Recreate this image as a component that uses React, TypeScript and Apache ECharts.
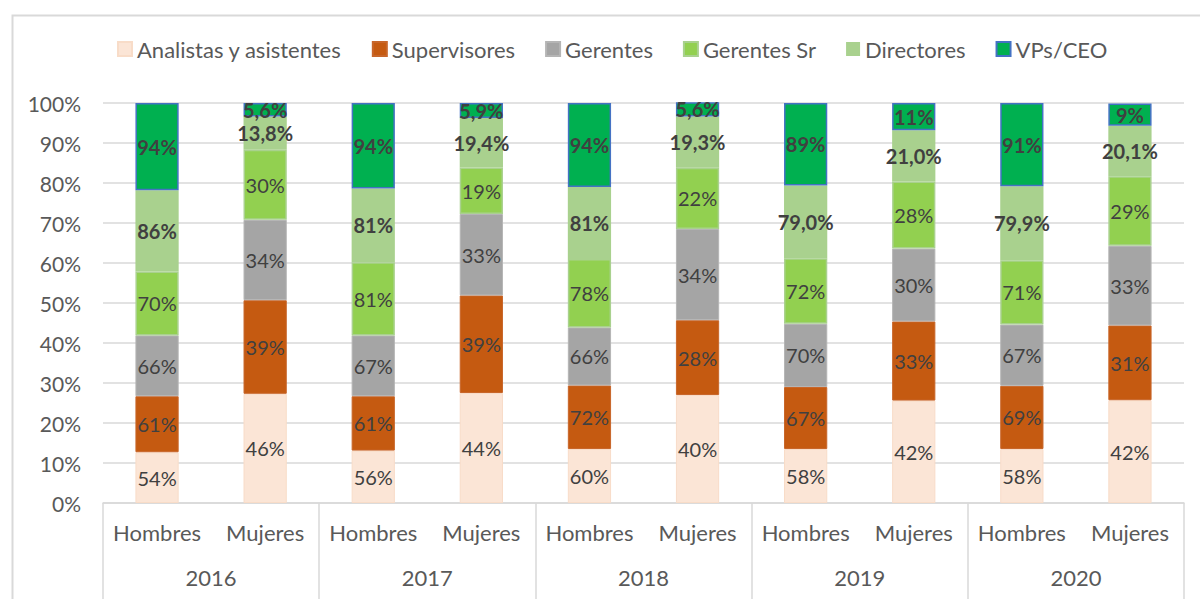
import React, { useEffect, useRef } from "react";
import * as echarts from "echarts";

const categories = ["Hombres", "Mujeres", "Hombres", "Mujeres", "Hombres", "Mujeres", "Hombres", "Mujeres", "Hombres", "Mujeres"];
const years = ["2016", "2017", "2018", "2019", "2020"];
const yTicks = [0, 10, 20, 30, 40, 50, 60, 70, 80, 90, 100];

const seriesNames = ["Analistas y asistentes", "Supervisores", "Gerentes", "Gerentes Sr", "Directores", "VPs/CEO"];

// segment heights (share of the 100% column)
const analistas = [12.7, 27.3, 13.1, 27.5, 13.5, 27.0, 13.5, 25.6, 13.5, 25.7];
const supervisores = [14.0, 23.4, 13.6, 24.4, 15.9, 18.7, 15.5, 19.8, 15.8, 18.7];
const gerentes = [15.2, 20.1, 15.2, 20.35, 14.5, 22.8, 15.8, 18.2, 15.3, 19.9];
const gerentesSr = [16.0, 17.5, 18.3, 11.65, 17.1, 15.3, 16.4, 16.8, 16.1, 17.4];
const directores = [20.3, 8.3, 18.4, 12.35, 18.0, 12.8, 18.2, 12.8, 18.5, 12.6];
const vps = [21.8, 3.4, 21.4, 3.75, 21.0, 4.0, 20.6, 6.8, 20.8, 5.6];

// printed labels
const analistasLbl = ["54%", "46%", "56%", "44%", "60%", "40%", "58%", "42%", "58%", "42%"];
const supervisoresLbl = ["61%", "39%", "61%", "39%", "72%", "28%", "67%", "33%", "69%", "31%"];
const gerentesLbl = ["66%", "34%", "67%", "33%", "66%", "34%", "70%", "30%", "67%", "33%"];
const gerentesSrLbl = ["70%", "30%", "81%", "19%", "78%", "22%", "72%", "28%", "71%", "29%"];
const directoresLbl = ["86%", "13,8%", "81%", "19,4%", "81%", "19,3%", "79,0%", "21,0%", "79,9%", "20,1%"];
const vpsLbl = ["94%", "5,6%", "94%", "5,9%", "94%", "5,6%", "89%", "11%", "91%", "9%"];

const colors = ["#FBE5D6", "#C55A11", "#A5A5A5", "#92D050", "#A9D18E", "#00B050"];

const FONT = "Lato, 'Noto Sans', sans-serif";

export default function App() {
  const ref = useRef<HTMLDivElement>(null);

  useEffect(() => {
    document.body.style.margin = "0";
    if (!ref.current) return;
    const chart = echarts.init(ref.current, null, { renderer: "svg" });

    const values = [analistas, supervisores, gerentes, gerentesSr, directores, vps];
    const labels = [analistasLbl, supervisoresLbl, gerentesLbl, gerentesSrLbl, directoresLbl, vpsLbl];
    const borders: any[] = [
      { borderColor: "#F8DCC8", borderWidth: 1 },
      { borderColor: "#C8662A", borderWidth: 1 },
      { borderColor: "#B5B5B5", borderWidth: 1 },
      { borderColor: "#A9D18E", borderWidth: 1.5 },
      { borderColor: "#A9D18E", borderWidth: 0 },
      { borderColor: "#4472C4", borderWidth: 1.5 },
    ];

    const series = seriesNames.map((name, i) => ({
      name,
      type: "bar",
      stack: "total",
      barWidth: "40%",
      xAxisIndex: 0,
      yAxisIndex: 0,
      data: values[i],
      itemStyle: { color: colors[i], ...borders[i] },
      label: {
        show: true,
        position: "inside",
        formatter: (p: any) => labels[i][p.dataIndex],
        color: "#404040",
        fontFamily: FONT,
        fontSize: 20,
        fontWeight: i >= 4 ? "bold" : "normal",
      },
    }));

    chart.setOption({
      animation: false,
      backgroundColor: "#ffffff",
      textStyle: { fontFamily: FONT },
      legend: {
        top: 38,
        left: 117,
        padding: 0,
        itemWidth: 14,
        itemHeight: 14,
        itemGap: 30,
        icon: "rect",
        textStyle: { color: "#595959", fontSize: 22, fontFamily: FONT },
        data: seriesNames,
      },
      grid: { left: 103, right: 16, top: 103, bottom: 96, containLabel: false },
      xAxis: [
        {
          type: "category",
          position: "bottom",
          data: categories,
          axisLine: { show: true, lineStyle: { color: "#D9D9D9", width: 1.5 } },
          axisTick: { show: false },
          axisLabel: { color: "#595959", fontSize: 22, fontFamily: FONT, margin: 18, interval: 0 },
        },
        {
          type: "category",
          position: "bottom",
          data: years,
          axisLine: { show: false },
          axisTick: { show: true, length: 100, lineStyle: { color: "#D9D9D9", width: 1.5 } },
          axisLabel: { color: "#595959", fontSize: 22, fontFamily: FONT, margin: 63, interval: 0 },
        },
      ],
      yAxis: {
        type: "value",
        min: 0,
        max: 100,
        interval: 10,
        axisLine: { show: false },
        axisTick: { show: false },
        splitLine: { lineStyle: { color: "#D9D9D9", width: 1.5 } },
        axisLabel: {
          color: "#595959",
          fontSize: 21,
          fontFamily: FONT,
          margin: 22,
          formatter: (v: number) => (yTicks.includes(v) ? v + "%" : ""),
        },
      },
      graphic: [
        {
          type: "rect",
          left: 10,
          top: 13,
          shape: { x: 0, y: 0, width: 1300, height: 700 },
          style: { fill: "none", stroke: "#D9D9D9", lineWidth: 2 },
          silent: true,
          z: -1,
        },
      ],
      series,
    });

    return () => chart.dispose();
  }, []);

  return <div ref={ref} style={{ width: 1200, height: 599 }} />;
}
